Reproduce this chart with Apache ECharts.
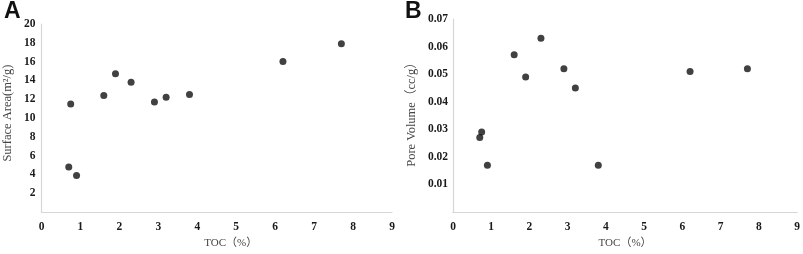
<!DOCTYPE html>
<html>
<head>
<meta charset="utf-8">
<script src="https://cdn.jsdelivr.net/npm/echarts@6/dist/echarts.min.js"></script>
<style>
  html, body { margin: 0; padding: 0; background: #fff; }
  #main { width: 803px; height: 254px; }
</style>
</head>
<body>
<div id="main"></div>
<script>
// TOC (%) shared by both panels
var toc = [0.7, 0.75, 0.9, 1.6, 1.9, 2.3, 2.9, 3.2, 3.8, 6.2, 7.7];
// panel A: surface area (m2/g)
var surfaceArea = [4.8, 11.5, 3.9, 12.4, 14.7, 13.8, 11.7, 12.2, 12.5, 16.0, 17.9];
// panel B: pore volume (cc/g)
var poreVolume = [0.027, 0.029, 0.017, 0.057, 0.049, 0.063, 0.052, 0.045, 0.017, 0.051, 0.052];
var panelLabels = ["A", "B"];

function pairs(xs, ys) {
  var out = [];
  for (var i = 0; i < xs.length; i++) {
    out.push([xs[i], ys[i]]);
  }
  return out;
}

var tickFont = {
  color: "#1a1a1a",
  fontFamily: "'Liberation Serif', 'DejaVu Serif', serif",
  fontWeight: "bold",
  fontSize: 11.5
};
var nameFont = {
  color: "#444",
  fontFamily: "'Liberation Serif', 'Noto Sans CJK SC', serif",
  fontSize: 11
};
var yNameFont = Object.assign({}, nameFont, { fontSize: 12.5 });
var axisLine = { show: true, lineStyle: { color: "#d6d6d6", width: 1.2 } };

function xAxisFor(idx, pad) {
  return {
    type: "value",
    gridIndex: idx,
    min: 0,
    max: 9,
    interval: 1,
    name: "TOC（%）",
    nameLocation: "middle",
    nameGap: 25,
    nameTextStyle: Object.assign({ padding: pad }, nameFont),
    axisLine: axisLine,
    axisTick: { show: false },
    splitLine: { show: false },
    axisLabel: Object.assign({ margin: 9 }, tickFont)
  };
}

var chart = echarts.init(document.getElementById("main"));
chart.setOption({
  backgroundColor: "#fff",
  animation: false,
  title: [
    {
      text: panelLabels[0], left: -1, top: -5,
      textStyle: { fontFamily: "'Liberation Sans', Arial, sans-serif", fontWeight: "bold", fontSize: 23, color: "#111" }
    },
    {
      text: panelLabels[1], left: 400, top: -5,
      textStyle: { fontFamily: "'Liberation Sans', Arial, sans-serif", fontWeight: "bold", fontSize: 23, color: "#111" }
    }
  ],
  grid: [
    { left: 39, top: 24, width: 353, height: 190 },
    { left: 453, top: 19, width: 346, height: 195 }
  ],
  xAxis: [xAxisFor(0, [0, 0, 0, 28]), xAxisFor(1, [0, 0, 0, 0])],
  yAxis: [
    {
      type: "value",
      gridIndex: 0,
      min: 0,
      max: 20,
      interval: 2,
      name: "Surface Area(m²/g)",
      nameLocation: "middle",
      nameGap: 28,
      nameTextStyle: Object.assign({ padding: [0, 0, 0, 10] }, yNameFont),
      axisLine: axisLine,
      axisTick: { show: false },
      splitLine: { show: false },
      axisLabel: Object.assign({
        margin: 6,
        formatter: function (v) { return v === 0 ? "" : v; }
      }, tickFont)
    },
    {
      type: "value",
      gridIndex: 1,
      min: 0,
      max: 0.07,
      interval: 0.01,
      name: "Pore Volume（cc/g）",
      nameLocation: "middle",
      nameGap: 35,
      nameTextStyle: Object.assign({ padding: [0, 0, 0, 8] }, yNameFont),
      axisLine: axisLine,
      axisTick: { show: false },
      splitLine: { show: false },
      axisLabel: Object.assign({
        margin: 5,
        formatter: function (v) { return v === 0 ? "" : v.toFixed(2); }
      }, tickFont)
    }
  ],
  series: [
    {
      type: "scatter",
      xAxisIndex: 0,
      yAxisIndex: 0,
      symbolSize: 7,
      itemStyle: { color: "#141010" },
      data: pairs(toc, surfaceArea)
    },
    {
      type: "scatter",
      xAxisIndex: 1,
      yAxisIndex: 1,
      symbolSize: 7,
      itemStyle: { color: "#141010" },
      data: pairs(toc, poreVolume)
    }
  ]
});
</script>
</body>
</html>
